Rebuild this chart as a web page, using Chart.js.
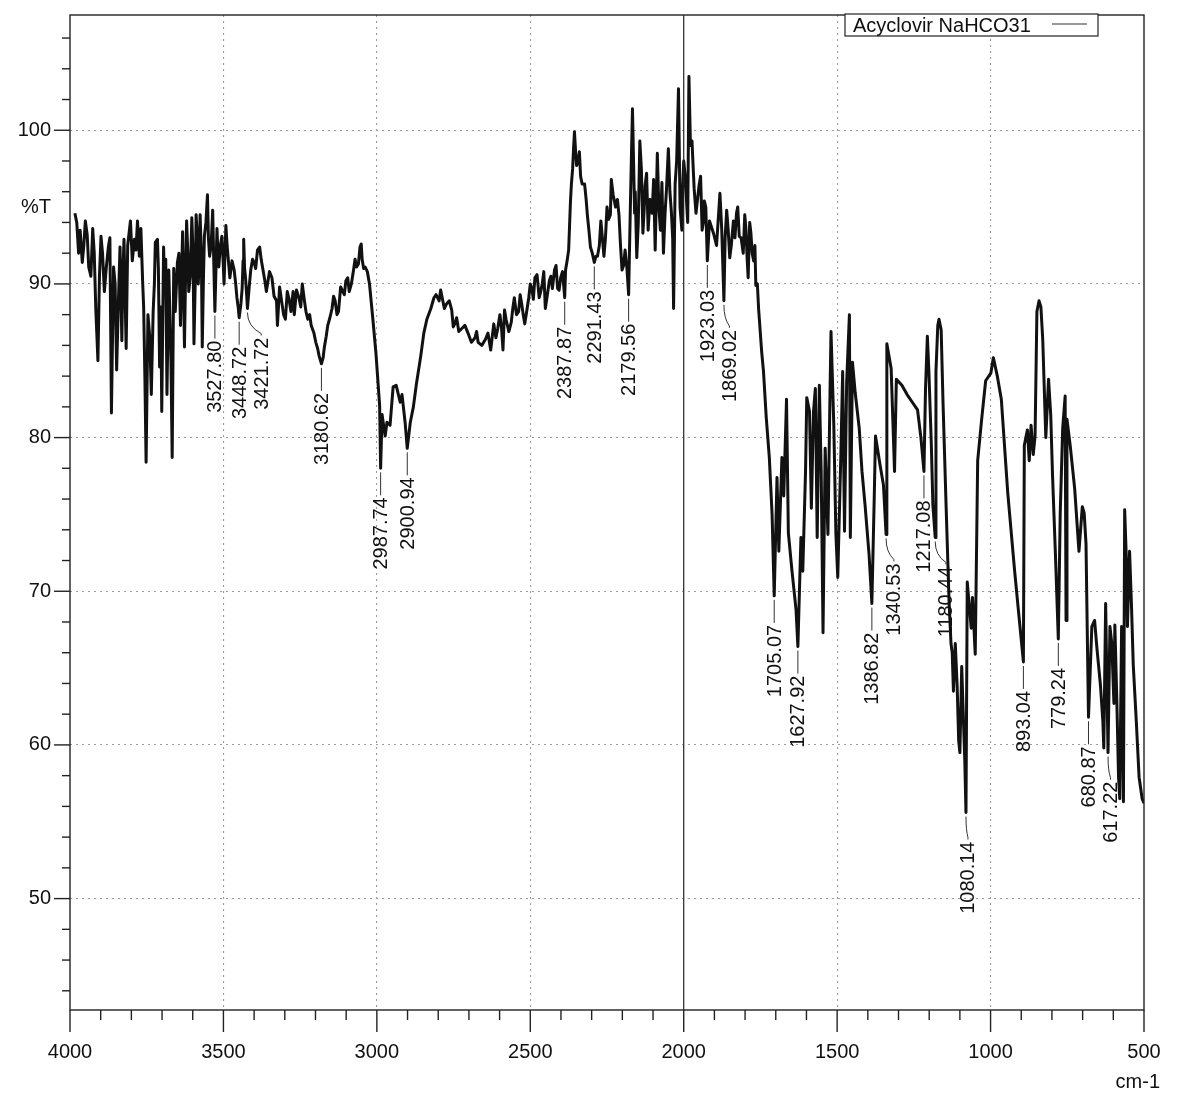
<!DOCTYPE html>
<html><head><meta charset="utf-8">
<script src="https://cdn.jsdelivr.net/npm/chart.js@4.4.1/dist/chart.umd.min.js"></script>
<style>html,body{margin:0;padding:0;background:#fff;}canvas{display:block;}</style>
</head><body>
<canvas id="c" width="1184" height="1093"></canvas>
<script>
// Main trace (wavenumber cm-1, %T)
const wavenumbers = [
3984,3967,3960,3950,3939,3926,3916,3909,3899,3888,3875,3865,3858,3848,3837,3831,3824,3817,3803,3790,
3780,3769,3763,3756,3752,3746,3735,3729,3722,3715,3708,3701,3695,3688,3684,3678,3667,3657,3650,3640,
3633,3627,3620,3613,3603,3596,3589,3582,3576,3569,3562,3552,3545,3535,3527.80,3521,3515,3505,3498,3492,
3485,3479,3465,3456,3448.72,3443,3439,3434,3428,3421.72,3411,3400,3389,3382,3371,3360,3342,3327,3324,3309,
3298,3287,3273,3269,3254,3243,3236,3225,3214,3199,3188,3180.62,3171,3160,3146,3136,3125,3111,3101,3090,
3076,3066,3055,3048,3038,3024,3013,3003,2997,2991,2987.74,2983,2973,2967,2957,2947,2937,2924,2918,2908,
2900.94,2891,2881,2871,2857,2847,2837,2824,2814,2807,2797,2787,2773,2756,2746,2723,2703,2680,2670,2646,
2629,2619,2606,2599,2589,2579,2562,2552,2538,2528,2518,2505,2495,2485,2471,2461,2451,2438,2428,2421,
2411,2401,2387.87,2385,2375,2369,2362,2356,2349,2340,2336,2323,2314,2304,2291.43,2281,2270,2260,2250,2239,
2236,2222,2211,2201,2191,2179.56,2173,2167,2160,2153,2143,2133,2126,2116,2103,2093,2086,2076,2066,2056,
2050,2040,2033,2023,2017,2006,2000,1990,1983,1973,1966,1960,1950,1940,1933,1923.03,1916,1903,1893,1882,
1876,1869.02,1860,1850,1838,1828,1819,1806,1797,1790,1781,1772,1765,1756,1746,1740,1731,1721,1712,1705.07,
1696,1690,1680,1674,1665,1659,1647,1634,1627.92,1618,1612,1603,1599,1590,1584,1577,1571,1565,1558,1552,
1546,1539,1530,1523,1520,1511,1504,1498,1488,1482,1476,1469,1460,1457,1450,1441,1428,1419,1409,1396,
1386.82,1379,1375,1360,1349,1340.53,1338,1324,1313,1307,1289,1272,1255,1238,1227,1217.08,1212,1206,1201,1193,
1188,1180.44,1178,1172,1168,1161,1155,1145,1135,1129,1125,1121,1115,1109,1104,1100,1094,1090,1084,1080.14,
1076,1063,1059,1050,1042,1029,1016,999,991,978,965,944,922,910,893.04,890,880,874,868,861,
855,849,842,836,830,820,811,804,798,789,779.24,773,765,757,754,751,740,726,712,701,
695,689,680.87,670,661,653,642,634,631,625,617.22,611,605,598,595,589,583,579,573,567,
563,557,554,547,541,535,525,516,506,500
];
const transmittance = [
94.6,93.5,91.4,94.1,91.1,93.6,88.4,85.0,93.1,89.5,92.4,81.6,91.1,84.4,92.4,86.3,92.9,85.8,94.1,92.9,
94.1,93.6,90.0,84.0,78.4,88.0,82.8,88.2,92.7,92.9,84.6,81.7,92.4,91.6,82.8,90.9,78.7,88.2,91.4,87.3,
93.4,85.9,94.1,89.5,94.3,86.1,94.5,90.0,94.5,85.9,93.1,95.8,91.8,94.8,88.2,93.6,91.1,93.1,90.0,93.8,
91.8,90.4,90.9,89.1,87.8,88.7,89.7,92.9,90.4,88.4,90.9,91.4,92.2,92.4,90.9,89.5,90.4,88.9,87.3,88.7,
87.7,89.1,89.5,88.0,89.1,90.0,88.9,87.7,87.3,86.2,85.3,84.8,85.9,87.3,88.4,88.9,88.2,89.5,90.2,89.5,
90.9,91.1,92.4,91.6,91.1,90.0,87.7,85.5,83.8,82.1,78.0,81.5,80.1,81.0,80.8,83.3,83.4,82.3,82.8,81.0,
79.3,81.0,82.0,83.5,85.3,86.8,87.7,88.4,89.1,89.3,88.9,89.1,88.7,88.3,87.4,87.1,86.8,86.5,86.2,86.4,
85.7,87.4,87.1,88.0,85.7,87.7,87.5,89.1,88.2,88.7,87.4,89.1,89.7,90.4,89.1,90.0,88.4,90.2,89.7,90.9,
89.7,90.4,89.1,90.9,92.2,95.4,97.5,99.9,97.7,98.6,97.0,96.5,94.5,92.4,91.4,91.8,94.1,91.8,95.0,94.5,
96.8,95.0,94.5,90.9,92.2,89.3,95.9,101.4,94.6,91.7,99.3,93.3,96.4,93.5,94.6,92.2,98.5,93.5,92.0,96.2,
98.8,94.6,88.4,98.0,102.7,93.5,98.0,95.1,103.5,99.3,96.2,94.6,96.4,93.5,95.4,91.5,94.1,93.3,92.5,95.9,
93.5,88.9,94.8,91.7,94.1,94.6,93.1,92.0,93.5,90.4,93.3,91.5,89.9,88.4,85.6,84.3,81.3,78.7,75.0,69.7,
77.4,72.6,78.7,76.2,82.5,73.8,71.3,68.8,66.4,73.5,71.3,77.8,82.6,81.7,75.4,81.7,83.2,73.5,83.4,77.8,
67.3,79.3,73.7,83.2,86.9,80.9,73.7,70.9,78.8,84.3,73.9,83.6,88.0,73.5,84.9,82.9,80.6,77.8,75.6,72.4,
69.2,76.2,80.1,78.2,76.9,73.7,86.1,84.5,77.8,83.8,83.4,82.8,82.3,81.8,80.0,77.8,83.2,86.6,84.3,79.5,
75.6,73.5,84.3,87.3,87.7,87.0,82.3,75.6,69.2,66.6,66.0,63.5,66.6,63.9,60.3,59.5,65.1,62.6,59.0,55.6,
70.6,67.6,69.6,65.9,78.5,81.2,83.7,84.2,85.2,84.0,82.5,76.4,71.4,68.9,65.4,79.5,80.5,78.5,80.8,78.9,
80.1,88.2,88.9,88.5,86.4,80.0,83.8,81.5,77.5,72.6,66.9,75.1,80.6,82.7,68.1,81.2,79.4,76.7,72.6,75.5,
75.1,73.1,61.8,67.7,68.1,66.2,63.9,61.5,59.8,69.2,59.5,67.7,66.6,62.7,67.8,63.3,57.9,56.5,67.7,56.3,
75.3,71.8,67.7,72.6,69.2,65.2,61.5,57.9,56.5,56.2
];
// Extra readings of the fine noise band in the busy regions
const noiseWavenumbers = [
3978,3972,3955,3944,3932,3921,3904,3894,3882,3870,3853,3842,3828,3812,3797,3785,3774,3760,3740,3725,
3712,3704,3692,3671,3662,3645,3637,3623,3616,3608,3599,3592,3585,3579,3572,3565,3557,3549,3540,3531,
3518,3510,3501,3488,3472,3460,3452,3436,3431,3425,3416,3405,
3395,3377,3365,3350,3335,3317,3304,3292,3280,3262,3248,3231,3219,3205,3193,3175,3165,3153,3141,3130,
3118,3106,3095,3083,3071,3060,3051,3043,3031,
2792,2780,2764,2751,2740,2733,2713,2692,2675,2658,2638,2612,2594,2584,2570,2557,2545,2533,2523,2511,
2500,2490,2478,2466,2456,2445,2433,2416,2406,2395,
2380,2366,2359,2352,2344,2331,2318,2309,2298,2286,2275,2265,2255,2245,2230,2216,2206,2196,2185,
2158,2148,2138,2129,2121,2110,2098,2081,2071,2061,2045,2036,2028,2012,2003,1995,1987,1978,1969,1955,
1945,1936,1928,
1865,1855,1845,1833,1824,1813,1801,1793,1785,1777,1768,1760
];
const noiseTransmittance = [
94.0,92.0,92.5,93.2,90.5,92.0,90.5,92.0,91.0,93.0,90.0,89.0,90.5,92.5,91.5,92.2,91.8,88.5,86.5,90.0,
91.0,88.5,90.0,85.0,91.0,92.0,90.0,91.0,92.0,90.5,92.0,90.0,93.0,91.5,92.0,90.5,94.0,93.0,92.5,91.0,
92.0,92.5,91.5,92.5,91.5,90.0,88.5,91.5,91.0,89.5,89.8,91.6,
91.0,91.6,90.2,90.8,89.2,89.8,88.0,89.5,88.2,89.6,88.5,88.2,88.0,86.8,85.8,85.2,86.6,87.8,89.2,88.0,
89.8,89.3,90.4,90.0,91.6,91.3,92.6,91.0,90.8,
89.6,88.4,88.9,87.2,87.8,86.9,87.3,86.2,86.9,86.0,86.8,86.5,87.2,88.3,86.9,88.4,88.0,89.3,88.0,88.3,
90.0,89.0,90.6,89.5,90.8,89.2,90.5,91.2,89.6,90.8,
91.5,96.5,98.8,98.5,98.0,96.5,95.5,93.5,92.0,91.8,92.5,93.0,93.0,94.2,95.8,95.5,92.5,91.2,91.0,
96.0,94.0,97.5,94.8,97.2,95.5,96.8,95.0,96.6,94.5,96.0,93.0,96.5,95.0,96.5,97.0,94.0,99.0,97.5,95.5,
97.0,94.0,95.0,
93.0,93.5,92.5,93.0,95.0,93.0,94.5,91.5,94.0,92.0,92.5,90.0
];
const peakWavenumbers = [3527.80,3448.72,3421.72,3180.62,2987.74,2900.94,2387.87,2291.43,2179.56,1923.03,1869.02,
  1705.07,1627.92,1386.82,1340.53,1217.08,1180.44,1080.14,893.04,779.24,680.87,617.22];
const xTickValues = [4000,3500,3000,2500,2000,1500,1000,500];
const yTickValues = [50,60,70,80,90,95,100];
const yTickLabels = ['50','60','70','80','90','%T','100'];
const seriesName = 'Acyclovir NaHCO31';
const xUnit = 'cm-1';

const FONT = "'Liberation Sans', Arial, sans-serif";
const INK = '#111';

const points = wavenumbers.map((w, i) => ({x: w, y: transmittance[i]}))
  .concat(noiseWavenumbers.map((w, i) => ({x: w, y: noiseTransmittance[i]})))
  .sort((a, b) => b.x - a.x);

const decor = {
  id: 'decor',
  afterDatasetsDraw(chart) {
    const {ctx, chartArea: a, scales: {x, y}} = chart;
    ctx.save();
    const x2000 = x.getPixelForValue(2000);
    ctx.strokeStyle = '#222'; ctx.lineWidth = 1.2;
    ctx.beginPath(); ctx.moveTo(x2000, a.top); ctx.lineTo(x2000, a.bottom); ctx.stroke();
    ctx.strokeStyle = '#222'; ctx.lineWidth = 1.4;
    ctx.strokeRect(a.left, a.top, a.right - a.left, a.bottom - a.top);
    for (let v = 500; v <= 4000; v += 100) {
      const px = x.getPixelForValue(v);
      const len = (v % 500 === 0) ? 22 : 10;
      ctx.beginPath(); ctx.moveTo(px, a.bottom); ctx.lineTo(px, a.bottom + len); ctx.stroke();
    }
    for (let v = 44; v <= 106; v += 2) {
      const py = y.getPixelForValue(v);
      const len = (v % 10 === 0) ? 16 : 8;
      ctx.beginPath(); ctx.moveTo(a.left, py); ctx.lineTo(a.left - len, py); ctx.stroke();
    }
    ctx.font = '20px ' + FONT;
    ctx.fillStyle = INK; ctx.strokeStyle = '#333'; ctx.lineWidth = 1;
    let prevX = -1e9;
    peakWavenumbers.forEach(pw => {
      let best = 0, bd = Infinity;
      wavenumbers.forEach((w, i) => { const d = Math.abs(w - pw); if (d < bd) { bd = d; best = i; } });
      const px = x.getPixelForValue(wavenumbers[best]);
      const py = y.getPixelForValue(transmittance[best]);
      const lx = Math.max(px, prevX + 22);
      prevX = lx;
      const y0 = py + 4, y1 = py + 27;
      ctx.beginPath(); ctx.moveTo(px, y0);
      if (Math.abs(lx - px) > 1) { ctx.quadraticCurveTo(px, y0 + 14, lx, y1 - 2); }
      ctx.lineTo(lx, y1);
      ctx.stroke();
      ctx.save();
      ctx.translate(lx, y1 + 2);
      ctx.rotate(-Math.PI / 2);
      ctx.textAlign = 'right'; ctx.textBaseline = 'middle';
      ctx.fillText(pw.toFixed(2), 0, 1);
      ctx.restore();
    });
    const bx = 845, by = a.top - 1, bw = 253, bh = 22;
    ctx.fillStyle = '#fff'; ctx.fillRect(bx, by, bw, bh);
    ctx.strokeStyle = '#222'; ctx.lineWidth = 1.2; ctx.strokeRect(bx, by, bw, bh);
    ctx.fillStyle = INK; ctx.font = '20px ' + FONT;
    ctx.textAlign = 'left'; ctx.textBaseline = 'middle';
    ctx.fillText(seriesName, bx + 8, by + bh / 2 + 1);
    ctx.strokeStyle = '#333'; ctx.lineWidth = 1.2;
    ctx.beginPath(); ctx.moveTo(bx + 207, by + 10); ctx.lineTo(bx + 242, by + 10); ctx.stroke();
    ctx.font = '20px ' + FONT; ctx.textAlign = 'right'; ctx.textBaseline = 'alphabetic';
    ctx.fillText(xUnit, 1160, 1088);
    ctx.restore();
  }
};

new Chart(document.getElementById('c'), {
  type: 'line',
  data: { datasets: [{
    label: seriesName, data: points, borderColor: INK, borderWidth: 3,
    pointRadius: 0, tension: 0, fill: false, borderJoinStyle: 'round'
  }]},
  options: {
    responsive: false, animation: false, devicePixelRatio: 1,
    layout: { padding: { top: 15, right: 40, left: 0, bottom: 0 } },
    plugins: { legend: { display: false }, tooltip: { enabled: false } },
    scales: {
      x: {
        type: 'linear', reverse: true, min: 500, max: 4000,
        afterBuildTicks: s => { s.ticks = xTickValues.map(v => ({value: v})); },
        afterFit: s => { s.height = 83; s.paddingLeft = 0; s.paddingRight = 0; },
        ticks: { color: INK, font: { family: FONT, size: 20 }, padding: 30, maxRotation: 0, autoSkip: false,
                 callback: v => String(v) },
        grid: { drawTicks: false, lineWidth: 1.1,
                color: c => (c.tick && [2000, 4000, 500].includes(c.tick.value)) ? 'rgba(0,0,0,0)' : '#9c9c9c' },
        border: { display: false, dash: [2, 4] }
      },
      y: {
        type: 'linear', min: 42.75, max: 107.5,
        afterBuildTicks: s => { s.ticks = yTickValues.map(v => ({value: v})); },
        afterFit: s => { s.width = 70; s.paddingTop = 0; s.paddingBottom = 0; },
        ticks: { color: INK, font: { family: FONT, size: 20 }, padding: 19, autoSkip: false,
                 callback: v => yTickLabels[yTickValues.indexOf(v)] },
        grid: { drawTicks: false, lineWidth: 1.1,
                color: c => (c.tick && c.tick.value === 95) ? 'rgba(0,0,0,0)' : '#9c9c9c' },
        border: { display: false, dash: [2, 4] }
      }
    }
  },
  plugins: [decor]
});
</script>
</body></html>
